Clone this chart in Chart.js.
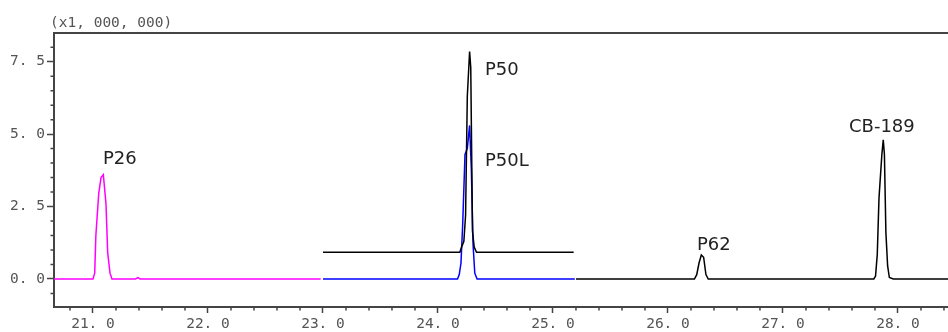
<!DOCTYPE html>
<html>
<head>
<meta charset="utf-8">
<script src="https://cdn.jsdelivr.net/npm/chart.js@4.4.1/dist/chart.umd.min.js"></script>
<style>
  body{margin:0;background:#fff;}
  #wrap{width:948px;height:332px;position:relative;}
</style>
</head>
<body>
<div id="wrap"><canvas id="chrom"></canvas></div>
<script>
// retention time (min) vs intensity (x1,000,000)
const p26Time = [20.661, 21.0, 21.015, 21.025, 21.05, 21.07, 21.09, 21.113, 21.128, 21.148, 21.165, 21.37, 21.39, 21.41, 22.98];
const p26Int  = [0, 0, 0.2, 1.5, 2.95, 3.5, 3.6, 2.6, 0.9, 0.2, 0, 0, 0.05, 0, 0];

const p50Time = [23.0, 24.19, 24.205, 24.225, 24.24, 24.255, 24.275, 24.285, 24.3, 24.315, 24.335, 25.18];
const p50Int  = [0.92, 0.92, 1.1, 1.3, 2.2, 6.3, 7.85, 7.3, 1.65, 1.1, 0.92, 0.92];

const p50lTime = [23.0, 24.17, 24.185, 24.2, 24.215, 24.235, 24.255, 24.275, 24.29, 24.305, 24.32, 24.34, 25.19];
const p50lInt  = [0, 0, 0.15, 0.55, 1.9, 4.3, 4.5, 5.3, 3.8, 1.2, 0.2, 0, 0];

const mainTime = [25.2, 26.23, 26.25, 26.27, 26.29, 26.31, 26.33, 26.35, 27.79, 27.805, 27.82, 27.835, 27.86, 27.872, 27.882, 27.895, 27.91, 27.925, 27.96, 28.435];
const mainInt  = [0, 0, 0.15, 0.55, 0.83, 0.75, 0.15, 0, 0, 0.1, 0.85, 2.8, 4.3, 4.8, 4.3, 1.6, 0.45, 0.05, 0, 0];

const xTicks = [21, 22, 23, 24, 25, 26, 27, 28];
const yTicks = [0, 2.5, 5, 7.5];

const peakNames = ['P26', 'P50', 'P50L', 'P62', 'CB-189'];
const peakLabelTime = [21.087, 24.409, 24.409, 26.252, 27.574];
const peakLabelInt  = [3.97, 7.04, 3.9, 1.0, 5.08];

const unitText = '(x1, 000, 000)';

const pts = (xs, ys) => xs.map((x, i) => ({x: x, y: ys[i]}));
const fmt = v => v.toFixed(1).replace('.', '. ');

const extras = {
  id: 'extras',
  afterDraw(chart) {
    const ctx = chart.ctx;
    const a = chart.chartArea;
    const xs = chart.scales.x, ys = chart.scales.y;
    ctx.save();
    // top frame line
    ctx.strokeStyle = '#444';
    ctx.lineWidth = 2;
    ctx.beginPath();
    ctx.moveTo(a.left - 1, a.top);
    ctx.lineTo(a.right, a.top);
    ctx.stroke();
    // minor ticks
    ctx.lineWidth = 1.5;
    ctx.beginPath();
    for (let i = 104; i <= 142; i++) {
      const v = i / 5;
      if (i % 5 === 0) continue;
      const px = xs.getPixelForValue(v);
      if (px < a.left || px > a.right) continue;
      ctx.moveTo(px, a.bottom);
      ctx.lineTo(px, a.bottom + 3.5);
    }
    for (let i = -1; i <= 16; i++) {
      if (i % 5 === 0) continue;
      const py = ys.getPixelForValue(i / 2);
      ctx.moveTo(a.left, py);
      ctx.lineTo(a.left - 3.5, py);
    }
    ctx.stroke();
    // unit text
    ctx.fillStyle = '#555';
    ctx.font = '14.5px "DejaVu Sans Mono"';
    ctx.textBaseline = 'alphabetic';
    ctx.fillText(unitText, 50, 27);
    // peak labels
    ctx.fillStyle = '#222';
    ctx.font = '18px "DejaVu Sans"';
    peakNames.forEach((n, i) => {
      ctx.fillText(n, xs.getPixelForValue(peakLabelTime[i]), ys.getPixelForValue(peakLabelInt[i]));
    });
    ctx.restore();
  }
};

const lineSet = (data, color) => ({
  data: data,
  borderColor: color,
  borderWidth: 1.5,
  pointRadius: 0,
  fill: false,
  tension: 0
});

new Chart(document.getElementById('chrom'), {
  type: 'line',
  data: {
    datasets: [
      lineSet(pts(p26Time, p26Int), '#ff00ff'),
      lineSet(pts(p50Time, p50Int), '#000000'),
      lineSet(pts(p50lTime, p50lInt), '#0000ff'),
      lineSet(pts(mainTime, mainInt), '#000000')
    ]
  },
  options: {
    responsive: true,
    maintainAspectRatio: false,
    animation: false,
    layout: {padding: {top: 33, right: 0, bottom: 0, left: 0}},
    plugins: {legend: {display: false}, tooltip: {enabled: false}},
    scales: {
      x: {
        type: 'linear',
        min: 20.661,
        max: 28.435,
        afterBuildTicks: s => { s.ticks = xTicks.map(v => ({value: v})); },
        afterFit: s => { s.height = 25; },
        grid: {drawOnChartArea: false, drawTicks: true, tickLength: 6, tickColor: '#444', tickWidth: 1.5},
        border: {color: '#444', width: 2},
        ticks: {
          callback: v => fmt(v),
          color: '#555',
          padding: 3,
          maxRotation: 0,
          font: {family: '"DejaVu Sans Mono"', size: 14.5}
        }
      },
      y: {
        type: 'linear',
        min: -0.967,
        max: 8.49,
        afterBuildTicks: s => { s.ticks = yTicks.map(v => ({value: v})); },
        afterFit: s => { s.width = 54; },
        grid: {drawOnChartArea: false, drawTicks: true, tickLength: 7, tickColor: '#444', tickWidth: 1.5},
        border: {color: '#444', width: 2},
        ticks: {
          callback: v => fmt(v),
          color: '#555',
          padding: 2,
          font: {family: '"DejaVu Sans Mono"', size: 14.5}
        }
      }
    }
  },
  plugins: [extras]
});
</script>
</body>
</html>
